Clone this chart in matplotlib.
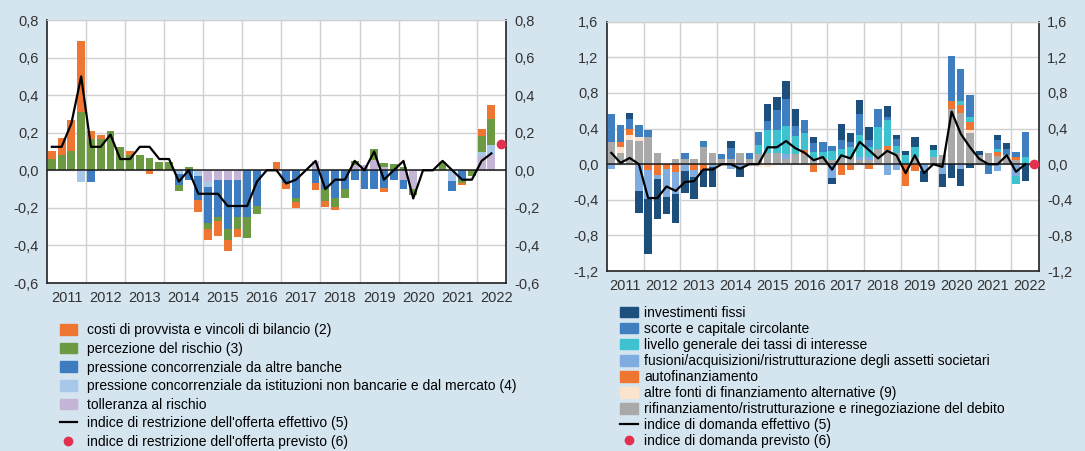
import matplotlib
matplotlib.use('Agg')
import matplotlib.pyplot as plt
import matplotlib.patches as mpatches
from matplotlib.lines import Line2D
import numpy as np

plt.rcParams['font.family'] = ['Liberation Sans', 'DejaVu Sans']

# ---- dati: trimestri 2011T1 - 2022T2 ----
years = list(range(2011, 2023))
n_q = 46

# pannello sinistro: offerta
costi = [0.045, 0.086, 0.165, 0.38, 0.045, 0.022, 0, 0, 0.02, 0, -0.02, 0,
         0, 0, 0, -0.06, -0.06, -0.08, -0.06, -0.045, 0, 0, 0, 0.043,
         -0.027, -0.032, 0, -0.036, -0.03, -0.018, 0, 0, 0, 0, -0.018, 0,
         0, 0, 0, 0, 0, 0, -0.015, 0, 0.036, 0.077]
rischio = [0.06, 0.084, 0.105, 0.31, 0.165, 0.168, 0.21, 0.125, 0.084, 0.08, 0.066, 0.043,
           0.043, -0.03, 0.02, 0, -0.03, -0.02, -0.06, -0.06, -0.11, -0.04, 0, 0,
           0, -0.018, 0, 0, -0.065, -0.045, -0.05, 0.02, 0, 0.06, 0.025, 0.035,
           0.02, -0.03, 0, 0, 0.045, 0, -0.015, -0.03, 0.084, 0.137]
conc_banche = [0, 0, 0, 0, -0.06, 0, 0, 0, 0, 0, 0, 0,
               0, -0.06, -0.05, -0.13, -0.19, -0.2, -0.26, -0.2, -0.25, -0.19, 0, 0,
               -0.07, -0.15, 0, -0.068, -0.1, -0.15, -0.1, -0.05, -0.1, -0.1, -0.095, -0.05,
               -0.05, 0, 0, 0, 0, -0.055, -0.05, 0, 0, 0]
conc_nonbanc = [0, 0, 0, -0.06, 0, 0, 0, 0, 0, 0, 0, 0,
                0, -0.02, 0, -0.03, -0.03, 0, 0, 0, 0, 0, 0, 0,
                0, 0, 0, 0, 0, 0, 0, 0, 0, 0, 0, 0,
                0, 0, 0, 0, 0, -0.057, 0, 0, 0.023, 0.054]
tolleranza = [0, 0, 0, 0, 0, 0, 0, 0, 0, 0, 0, 0,
              0, 0, 0, 0, -0.06, -0.05, -0.05, -0.05, 0, 0, 0, 0,
              0, 0, 0, 0.05, 0, 0, 0, 0.03, 0.03, 0.055, 0.015, 0,
              -0.05, -0.1, 0, 0, 0, 0, 0, 0, 0.075, 0.08]
offerta_eff = [0.125, 0.125, 0.25, 0.5, 0.125, 0.125, 0.19, 0.06, 0.06, 0.125, 0.125, 0.06,
               0.06, -0.06, 0.0, -0.125, -0.125, -0.125, -0.19, -0.19, -0.19, -0.06, 0.0, 0.0,
               -0.07, -0.05, 0.0, 0.05, -0.1, -0.05, -0.05, 0.05, 0.0, 0.1, -0.05, 0.0,
               0.05, -0.15, 0.0, 0.0, 0.05, 0.0, -0.05, -0.05, 0.05, 0.09]
offerta_prev = 0.1375

# pannello destro: domanda
investimenti = [0, 0, 0.064, -0.25, -0.62, -0.45, -0.19, -0.33, -0.25, -0.245, -0.2, -0.23,
                0, 0.075, -0.1, 0, 0, 0.19, 0.14, 0.2, 0.19, 0, 0.075, 0,
                -0.075, 0.18, 0.1, 0.16, 0.15, 0, 0.12, 0.04, 0.05, 0.11, -0.125, 0.06,
                -0.15, -0.15, -0.2, -0.045, 0.05, 0, 0.055, 0.065, 0, -0.19]
scorte = [0.31, 0.19, 0.12, 0.13, 0.07, 0, 0, 0, 0.07, 0, 0.07, 0,
          0.06, 0.12, 0, 0.065, 0.14, 0.11, 0.23, 0.3, 0.11, 0.15, 0.1, 0.11,
          0.065, 0.095, 0.055, 0.24, 0.075, 0.205, 0.03, 0.08, 0, 0, 0, 0,
          0, 0.5, 0.35, 0.245, 0, -0.115, 0.095, 0.075, 0.055, 0.28]
tassi = [0, 0, 0, 0, 0, 0, 0, 0, 0, 0, 0, 0,
         0, 0, 0, 0, 0.1, 0.25, 0.25, 0.31, 0.2, 0.19, 0.06, 0.075,
         0.1, 0.11, 0.11, 0.24, 0.11, 0.245, 0.3, 0.075, 0.1, 0.11, 0, 0.08,
         0, 0, 0.05, 0.055, 0, 0, 0.035, 0, -0.095, 0.08]
fusioni = [-0.056, 0, 0, -0.3, -0.32, -0.05, -0.32, -0.24, -0.075, -0.075, 0, -0.03,
           0, -0.05, -0.04, 0, 0, 0, 0, 0.06, 0, 0, 0, 0,
           -0.15, 0, 0, 0.04, 0.04, 0, -0.12, -0.06, 0, 0, -0.075, 0,
           -0.11, 0, -0.05, 0, 0, 0, -0.075, 0, -0.13, 0]
autofin = [0, 0.06, 0.064, 0, -0.07, -0.12, -0.05, -0.09, 0, -0.07, -0.06, 0,
           0, 0, 0, 0, 0, 0, 0, 0, 0, 0.04, -0.09, 0,
           0, -0.12, -0.07, 0, -0.055, 0, 0.045, 0, -0.25, -0.075, 0, 0,
           0, 0.095, 0.095, 0.095, 0, 0, 0.05, 0, 0.035, 0]
altre_fonti = [0, 0.06, 0.056, 0.045, 0, 0, 0, 0, 0, 0, 0, 0,
               0, 0, 0, 0, -0.03, -0.03, 0, 0, 0, 0, 0, 0,
               0, 0, 0, 0, 0, 0, 0, 0, 0, 0, 0, 0,
               0, 0, 0, 0.03, 0, 0, 0, 0, 0, 0]
rifinanz = [0.25, 0.13, 0.27, 0.26, 0.31, 0.13, 0, 0.06, 0.06, 0.06, 0.19, 0.13,
            0.06, 0.06, 0.13, 0.06, 0.12, 0.13, 0.13, 0.06, 0.12, 0.12, 0.075, 0.065,
            0.045, 0.065, 0.08, 0.045, 0.045, 0.175, 0.155, 0.13, 0, 0.08, 0, 0.08,
            0.1, 0.62, 0.57, 0.35, 0.1, 0.13, 0.09, 0.1, 0.045, 0]
domanda_eff = [0.127, 0.015, 0.07, 0.0, -0.38, -0.38, -0.25, -0.3, -0.2, -0.19, -0.06, -0.06,
               0.0, 0.0, -0.05, 0.0, 0.0, 0.19, 0.19, 0.26, 0.18, 0.13, 0.045, 0.08,
               -0.06, 0.1, 0.065, 0.25, 0.16, 0.065, 0.15, 0.1, -0.1, 0.1, -0.1, 0.0,
               -0.03, 0.59, 0.34, 0.19, 0.06, 0.0, 0.0, 0.1, -0.085, 0.0]
domanda_prev = 0.0

BG = '#d4e5f0'
RED = '#e3304f'
LABEL_C = '#333333'

x = 2011.125 + 0.25 * np.arange(n_q)
x_prev = 2011.125 + 0.25 * n_q


def stacked(ax, series, colors, width):
    pos = np.zeros(n_q)
    neg = np.zeros(n_q)
    for vals, c in zip(series, colors):
        v = np.array(vals, dtype=float)
        p = np.where(v > 0, v, 0)
        m = np.where(v < 0, v, 0)
        ax.bar(x, p, width, bottom=pos, color=c, linewidth=0, zorder=3)
        ax.bar(x, m, width, bottom=neg, color=c, linewidth=0, zorder=3)
        pos += p
        neg += m


def style_axes(ax, ylim, ticks, ticklabels):
    ax.set_xlim(2011, 2022.75)
    ax.set_ylim(*ylim)
    ax.set_yticks(ticks)
    ax.set_yticklabels(ticklabels)
    ax.set_xticks(np.arange(2011, 2023) + 0.5)
    ax.set_xticklabels([str(y) for y in years])
    ax.set_xticks(np.arange(2012, 2023), minor=True)
    ax.grid(True, axis='y', color='#d0d0d0', lw=1, zorder=0)
    ax.grid(True, axis='x', which='minor', color='#d0d0d0', lw=1, zorder=0)
    ax.axhline(0, color='#1a1a1a', lw=1.1, zorder=4)
    ax.tick_params(axis='both', which='both', length=0, labelsize=10.5, colors=LABEL_C)
    ax.tick_params(axis='y', labelleft=True, labelright=True, pad=6)
    ax.tick_params(axis='x', pad=6)
    for s in ['left', 'right', 'bottom']:
        ax.spines[s].set_color('#222222')
        ax.spines[s].set_linewidth(1.2)
    ax.spines['top'].set_color('#d0d0d0')


fig = plt.figure(figsize=(10.85, 4.51), dpi=100)
fig.patch.set_facecolor(BG)

# ---- pannello sinistro ----
ax1 = fig.add_axes([0.0433, 0.3725, 0.4231, 0.5831])
left_cols = ['#c4b5d6', '#a8c8ea', '#3d7cc0', '#6b9a43', '#ef7533']
stacked(ax1, [tolleranza, conc_nonbanc, conc_banche, rischio, costi], left_cols, 0.2)
ax1.plot(x, offerta_eff, color='black', lw=1.6, zorder=5)
ax1.plot([x_prev], [offerta_prev], 'o', color=RED, ms=6, zorder=6, clip_on=False)
lt = [0.8, 0.6, 0.4, 0.2, 0.0, -0.2, -0.4, -0.6]
style_axes(ax1, (-0.6, 0.8), lt, [f'{v:.1f}'.replace('.', ',') for v in lt])

# ---- pannello destro ----
ax2 = fig.add_axes([0.5592, 0.399, 0.3984, 0.5528])
right_cols = ['#a9a9a9', '#fbe3cd', '#ef7533', '#80acdf', '#3fc2d0', '#3f7fc0', '#1c4f7c']
stacked(ax2, [rifinanz, altre_fonti, autofin, fusioni, tassi, scorte, investimenti], right_cols, 0.2)
ax2.plot(x, domanda_eff, color='black', lw=1.6, zorder=5)
ax2.plot([x_prev], [domanda_prev], 'o', color=RED, ms=6, zorder=6, clip_on=False)
rt = [1.6, 1.2, 0.8, 0.4, 0.0, -0.4, -0.8, -1.2]
style_axes(ax2, (-1.2, 1.6), rt, [f'{v:.1f}'.replace('.', ',') for v in rt])

# ---- legende ----
lab_left = ['costi di provvista e vincoli di bilancio (2)',
            'percezione del rischio (3)',
            'pressione concorrenziale da altre banche',
            'pressione concorrenziale da istituzioni non bancarie e dal mercato (4)',
            'tolleranza al rischio',
            "indice di restrizione dell'offerta effettivo (5)",
            "indice di restrizione dell'offerta previsto (6)"]
h_left = [mpatches.Patch(color=c) for c in left_cols[::-1]]
h_left += [Line2D([], [], color='black', lw=1.6),
           Line2D([], [], marker='o', color=RED, ls='none', ms=6)]
fig.legend(h_left, lab_left, loc='upper left', bbox_to_anchor=(0.0553, 0.283),
           frameon=False, fontsize=10, handlelength=1.2, handleheight=0.8,
           labelspacing=0.33, handletextpad=0.75, borderaxespad=0, borderpad=0)

lab_right = ['investimenti fissi',
             'scorte e capitale circolante',
             'livello generale dei tassi di interesse',
             'fusioni/acquisizioni/ristrutturazione degli assetti societari',
             'autofinanziamento',
             'altre fonti di finanziamento alternative (9)',
             'rifinanziamento/ristrutturazione e rinegoziazione del debito',
             'indice di domanda effettivo (5)',
             'indice di domanda previsto (6)']
h_right = [mpatches.Patch(color=c) for c in right_cols[::-1]]
h_right += [Line2D([], [], color='black', lw=1.6),
            Line2D([], [], marker='o', color=RED, ls='none', ms=6)]
fig.legend(h_right, lab_right, loc='upper left', bbox_to_anchor=(0.5714, 0.322),
           frameon=False, fontsize=10, handlelength=1.3, handleheight=0.8,
           labelspacing=0.15, handletextpad=0.45, borderaxespad=0, borderpad=0)

fig.savefig('out.png', dpi=100, facecolor=BG)
